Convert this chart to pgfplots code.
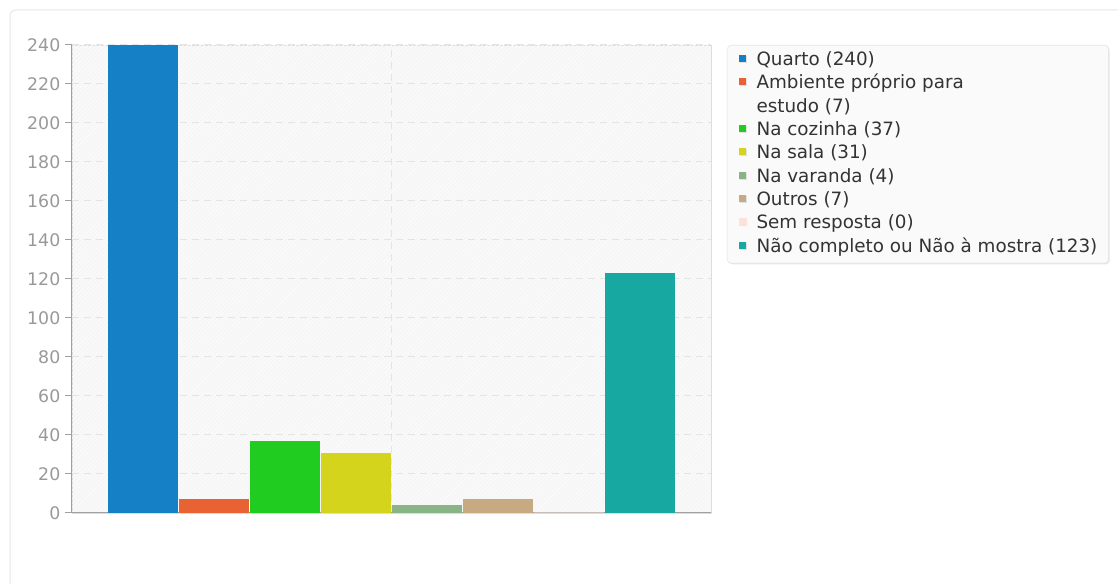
\documentclass[border=0pt]{standalone}
\usepackage{fontspec}
\setmainfont{DejaVu Sans}
\usepackage{pgfplots}
\pgfplotsset{compat=1.18}
\usetikzlibrary{patterns.meta,shadows}
\definecolor{cQuarto}{HTML}{1580C6}
\definecolor{cAmb}{HTML}{E86234}
\definecolor{cCoz}{HTML}{20CC20}
\definecolor{cSala}{HTML}{D4D41C}
\definecolor{cVar}{HTML}{89B586}
\definecolor{cOut}{HTML}{C8AA82}
\definecolor{cSem}{HTML}{FCE2DA}
\definecolor{cNao}{HTML}{17A8A2}
\definecolor{framec}{HTML}{E6E6E6}
\definecolor{axbg}{HTML}{F6F6F6}
\definecolor{hatch}{HTML}{FCFCFC}
\definecolor{bordc}{HTML}{DDDDDD}
\definecolor{axisgray}{HTML}{A0A0A0}
\definecolor{gridc}{HTML}{E4E4E4}
\definecolor{tickc}{HTML}{999999}
\definecolor{legbg}{HTML}{FAFAFA}
\definecolor{legbord}{HTML}{E2E2E2}
\definecolor{legtext}{HTML}{333333}
\begin{document}
\begin{tikzpicture}
\path[use as bounding box] (0,0) rectangle (838.5pt,438pt);
\begin{scope}
\clip (0,0) rectangle (838.5pt,438pt);
\draw[framec, line width=0.75pt, rounded corners=4pt] (7.5pt,-20pt) rectangle (860pt,430.5pt);
\end{scope}
\begin{axis}[
  at={(54pt,53.25pt)}, anchor=south west,
  scale only axis, width=479.25pt, height=351pt,
  xmin=0, xmax=9, ymin=0, ymax=240,
  ybar, bar width=52.5pt,
  axis x line*=bottom, axis y line*=left,
  axis line style={draw=axisgray, line width=0.75pt},
  ytick={0,20,...,240}, xtick={4.5}, xticklabels={},
  tick align=outside, major tick length=5.25pt,
  y tick style={draw=axisgray, line width=0.75pt},
  x tick style={draw=none},
  ymajorgrids, xmajorgrids,
  major grid style={draw=gridc, dash pattern=on 5.25pt off 3.75pt, line width=0.75pt},
  yticklabel style={font=\fontsize{13pt}{15pt}\selectfont, text=tickc},
  /pgf/number format/assume math mode=true,
  axis background/.style={fill=axbg, draw=bordc, postaction={pattern={Lines[angle=45,distance=2.3pt,line width=0.6pt]}, pattern color=hatch}},
  legend style={at={(1.025,1)}, anchor=north west, fill=legbg, draw=legbord,
    rounded corners=3pt, inner xsep=8.5pt, inner ysep=3pt,
    font=\fontsize{13.75pt}{17.5pt}\selectfont, row sep=0pt, column sep=7.5pt,
    nodes={inner sep=0pt, text=legtext, text height=12.25pt, text depth=5.25pt},
    drop shadow={shadow xshift=0.75pt, shadow yshift=-0.75pt, fill=black, opacity=0.10}},
  legend cell align=left,
  legend image code/.code={\fill[#1,sharp corners] (0pt,-0.75pt) rectangle (5.25pt,4.5pt);},
]
\addplot[fill=cQuarto, draw=none, bar shift=0pt] coordinates {(1,240)};
\addlegendentry{Quarto (240)}
\addplot[fill=cAmb, draw=none, bar shift=0pt] coordinates {(2,7)};
\addlegendentry{Ambiente próprio para}
\addlegendimage{empty legend}
\addlegendentry{estudo (7)}
\addplot[fill=cCoz, draw=none, bar shift=0pt] coordinates {(3,37)};
\addlegendentry{Na cozinha (37)}
\addplot[fill=cSala, draw=none, bar shift=0pt] coordinates {(4,31)};
\addlegendentry{Na sala (31)}
\addplot[fill=cVar, draw=none, bar shift=0pt] coordinates {(5,4)};
\addlegendentry{Na varanda (4)}
\addplot[fill=cOut, draw=none, bar shift=0pt] coordinates {(6,7)};
\addlegendentry{Outros (7)}
\addplot[fill=cSem, draw=cSem, line width=0.75pt, bar shift=0pt] coordinates {(7,0)};
\addlegendentry{Sem resposta (0)}
\addplot[fill=cNao, draw=none, bar shift=0pt] coordinates {(8,123)};
\addlegendentry{Não completo ou Não à mostra (123)}
\end{axis}
\end{tikzpicture}
\end{document}
